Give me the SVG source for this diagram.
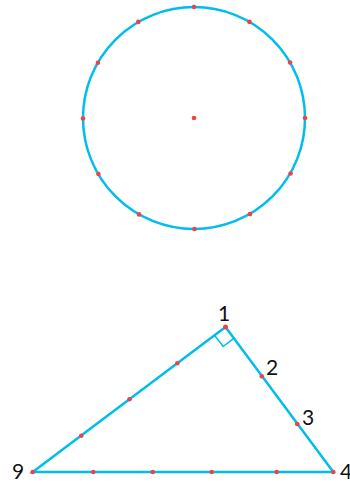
<svg xmlns="http://www.w3.org/2000/svg" width="350" height="485" viewBox="0 0 350 485">
<style>
.ln{fill:none;stroke:#00BDEE;stroke-width:2.5;stroke-linejoin:miter}
.thin{fill:none;stroke:#00BDEE;stroke-width:1.5}
.pt{fill:#E8454A}
.lb{font-family:"Lato","Noto Sans",sans-serif;font-size:21px;font-weight:400;fill:#111}
</style>
<g id="circle">
<circle class="ln" cx="194" cy="118" r="111"/>
<circle class="pt" cx="194" cy="118" r="2.3"/>
<circle class="pt" cx="194" cy="7" r="2.3"/>
<circle class="pt" cx="249.5" cy="21.9" r="2.3"/>
<circle class="pt" cx="290.1" cy="62.5" r="2.3"/>
<circle class="pt" cx="305" cy="118" r="2.3"/>
<circle class="pt" cx="290.6" cy="173.5" r="2.3"/>
<circle class="pt" cx="250" cy="214.1" r="2.3"/>
<circle class="pt" cx="194.5" cy="229" r="2.3"/>
<circle class="pt" cx="139" cy="214.4" r="2.3"/>
<circle class="pt" cx="98.4" cy="174" r="2.3"/>
<circle class="pt" cx="83" cy="118.5" r="2.3"/>
<circle class="pt" cx="97.9" cy="62.8" r="2.3"/>
<circle class="pt" cx="138.3" cy="21.9" r="2.3"/>
</g>
<g id="triangle">
<polygon class="ln" points="225.5,327 333.3,472 32.7,472"/>
<polyline class="thin" points="214.6,335.2 223.1,346.5 234.2,338.1"/>
<circle class="pt" cx="225.5" cy="327" r="2.5"/>
<circle class="pt" cx="177.3" cy="363.3" r="2.3"/>
<circle class="pt" cx="129.5" cy="399.3" r="2.3"/>
<circle class="pt" cx="81.3" cy="435.7" r="2.3"/>
<circle class="pt" cx="32.7" cy="472" r="2.3"/>
<circle class="pt" cx="261.8" cy="376.2" r="2.3"/>
<circle class="pt" cx="297.2" cy="424" r="2.3"/>
<circle class="pt" cx="333.3" cy="472" r="2.3"/>
<circle class="pt" cx="93.3" cy="472" r="2.3"/>
<circle class="pt" cx="152.7" cy="472" r="2.3"/>
<circle class="pt" cx="211.7" cy="472" r="2.3"/>
<circle class="pt" cx="276.7" cy="472" r="2.3"/>
</g>
<g id="labels">
<text class="lb" x="224" y="321" text-anchor="middle">1</text>
<text class="lb" x="266" y="375">2</text>
<text class="lb" x="302" y="425">3</text>
<text class="lb" x="12" y="479">9</text>
<text class="lb" x="340" y="479">4</text>
</g>
</svg>
